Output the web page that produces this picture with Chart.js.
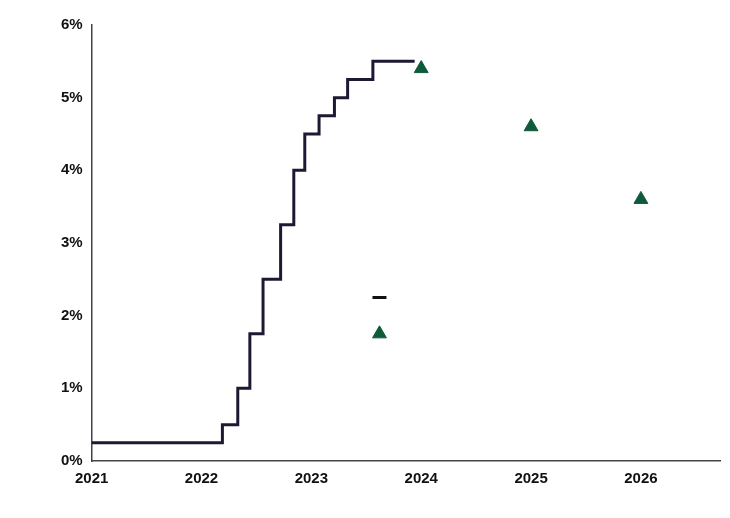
<!DOCTYPE html>
<html><head><meta charset="utf-8">
<script src="https://cdn.jsdelivr.net/npm/chart.js@4"></script>
<style>body{margin:0;background:#fff}#wrap{width:730px;height:518px}</style>
</head><body><div id="wrap"><canvas id="c"></canvas></div>
<script>
// policy rate path (x = fractional year, y = percent)
const rateDates = [2021, 2022.19, 2022.33, 2022.44, 2022.56, 2022.72, 2022.84, 2022.94, 2023.07, 2023.21, 2023.33, 2023.56, 2023.94];
const rateValues = [0.25, 0.5, 1.0, 1.75, 2.5, 3.25, 4.0, 4.5, 4.75, 5.0, 5.25, 5.5, 5.5];
// projections (triangles)
const projDates = [2023.62, 2024, 2025, 2026];
const projValues = [1.75, 5.4, 4.6, 3.6];
// single dash marker
const dashDates = [2023.62];
const dashValues = [2.25];

const toXY = (xs, ys) => xs.map((x, i) => ({x: x, y: ys[i]}));

new Chart(document.getElementById('c'), {
    type: 'line',
    data: {
        datasets: [
            {
                data: toXY(rateDates, rateValues),
                borderColor: '#1c1a33',
                borderWidth: 3,
                stepped: 'before',
                pointRadius: 0
            },
            {
                data: toXY(projDates, projValues),
                showLine: false,
                pointStyle: 'triangle',
                pointRadius: 8,
                backgroundColor: '#0f5a3a',
                borderColor: '#0f5a3a'
            },
            {
                data: toXY(dashDates, dashValues),
                showLine: false,
                pointStyle: 'line',
                pointRadius: 7,
                borderWidth: 3,
                borderColor: '#111'
            }
        ]
    },
    options: {
        responsive: true,
        maintainAspectRatio: false,
        animation: false,
        layout: {padding: {top: 25, right: 0, left: 58, bottom: 27}},
        plugins: {legend: {display: false}, tooltip: {enabled: false}},
        scales: {
            x: {
                type: 'linear', min: 2021, max: 2026.72,
                afterBuildTicks: s => { s.ticks = [2021, 2022, 2023, 2024, 2025, 2026].map(v => ({value: v})); },
                grid: {display: false, drawTicks: true, tickLength: 6, color: '#000'},
                border: {color: '#444', width: 1.5},
                ticks: {color: '#111', font: {family: 'Liberation Sans', size: 15, weight: 'bold'}, callback: v => String(v), maxRotation: 0}
            },
            y: {
                min: 0, max: 6,
                grid: {display: false, tickLength: 6},
                border: {color: '#444', width: 1.5},
                ticks: {stepSize: 1, color: '#111', font: {family: 'Liberation Sans', size: 15, weight: 'bold'}, callback: v => v + '%'}
            }
        }
    }
});
</script></body></html>
